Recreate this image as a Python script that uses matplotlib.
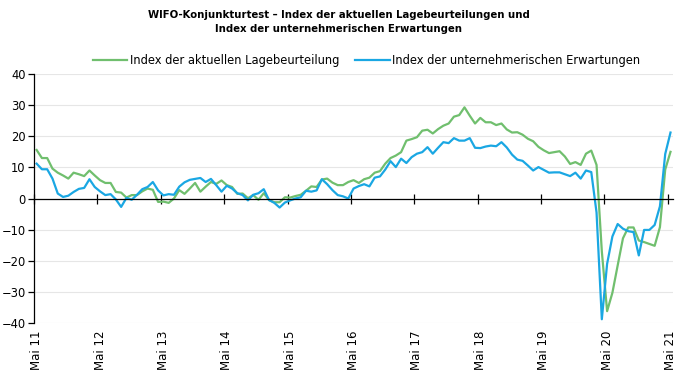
import matplotlib
matplotlib.use("Agg")
import matplotlib.pyplot as plt
import numpy as np

# monthly values May 2011 .. May 2021
lage = [15.6, 13.0, 13.0, 9.6, 8.3, 7.4, 6.4, 8.3, 7.8, 7.2, 9.0, 7.4,
        5.9, 5.0, 5.0, 2.1, 1.9, 0.3, 1.1, 1.1, 2.3, 3.2, 2.8, -1.1,
        -1.0, -1.4, 0.0, 2.7, 1.5, 3.2, 5.0, 2.2, 3.8, 5.3, 4.7, 5.8,
        4.3, 3.7, 1.5, 1.6, 0.1, 1.1, -0.4, 1.7, -0.5, -1.2, -1.2, 0.4,
        0.3, 0.8, 1.2, 2.5, 3.9, 3.7, 6.1, 6.4, 5.1, 4.3, 4.3, 5.3,
        5.9, 5.0, 6.2, 6.7, 8.3, 8.8, 11.2, 13.0, 13.8, 14.9, 18.6, 19.1,
        19.7, 21.8, 22.1, 20.9, 22.3, 23.4, 24.1, 26.3, 26.8, 29.3, 26.6, 24.1,
        25.9, 24.5, 24.5, 23.6, 24.1, 22.2, 21.2, 21.3, 20.5, 19.2, 18.4, 16.6,
        15.5, 14.6, 14.9, 15.2, 13.5, 11.1, 11.7, 10.8, 14.4, 15.4, 10.8, -17.0,
        -36.2, -30.3, -21.5, -12.8, -9.3, -9.3, -13.5, -14.0, -14.6, -15.2, -9.2, 9.3,
        15.0]

erwartungen = [11.2, 9.4, 9.4, 6.4, 1.6, 0.5, 0.9, 2.1, 3.1, 3.4, 6.2, 3.7,
               2.3, 1.1, 1.4, -0.3, -2.7, 0.2, -0.4, 1.2, 3.0, 3.7, 5.3, 2.6,
               1.0, 1.4, 1.2, 3.8, 5.2, 6.0, 6.3, 6.6, 5.3, 6.3, 4.3, 2.2,
               4.1, 3.2, 1.7, 1.1, -0.6, 1.2, 1.7, 3.0, -0.5, -1.4, -2.9, -1.3,
               -0.6, 0.0, 0.4, 2.5, 2.2, 2.6, 6.2, 4.6, 2.7, 1.1, 0.7, 0.0,
               3.2, 4.0, 4.6, 3.9, 6.7, 7.1, 9.3, 12.0, 10.1, 12.8, 11.4, 13.3,
               14.4, 14.9, 16.5, 14.4, 16.3, 18.1, 17.8, 19.4, 18.6, 18.6, 19.4, 16.3,
               16.2, 16.7, 17.0, 16.8, 18.1, 16.4, 14.1, 12.5, 12.1, 10.6, 9.0, 10.1,
               9.2, 8.3, 8.4, 8.4, 7.8, 7.2, 8.3, 6.4, 9.0, 8.5, -4.5, -38.8,
               -21.0, -12.2, -8.2, -9.7, -10.5, -10.8, -18.3, -10.1, -10.1, -8.5, -2.5, 14.3,
               21.2]

year_labels = ["Mai 11", "Mai 12", "Mai 13", "Mai 14", "Mai 15", "Mai 16",
               "Mai 17", "Mai 18", "Mai 19", "Mai 20", "Mai 21"]

green = "#70BF6E"
blue = "#1AA7E3"

fig = plt.figure(figsize=(6.88, 3.83), dpi=100)
ax = fig.add_axes([0.0494, 0.1567, 0.929, 0.650])

x = np.arange(len(lage))
ax.plot(x, lage, color=green, lw=1.6, label="Index der aktuellen Lagebeurteilung")
ax.plot(x, erwartungen, color=blue, lw=1.6, label="Index der unternehmerischen Erwartungen")

ax.set_xlim(-0.5, 120.5)
ax.set_ylim(-40, 40)
ax.set_yticks(range(-40, 41, 10))
ax.grid(axis="y", color="#E6E6E6", lw=0.8)
ax.set_axisbelow(True)

for s in ["top", "right"]:
    ax.spines[s].set_visible(False)
ax.spines["left"].set_linewidth(0.9)
ax.spines["bottom"].set_position(("data", 0))
ax.spines["bottom"].set_linewidth(0.9)

# year ticks sit between April and May
ax.set_xticks(np.arange(0, 121, 12) - 0.5)
ax.set_xticklabels([])
ax.tick_params(axis="x", direction="inout", length=7, width=0.9)
ax.tick_params(axis="y", direction="out", length=4, width=0.9, labelsize=8.3, pad=2)

for i, lab in enumerate(year_labels):
    ax.text(i * 12, -0.03, lab, transform=ax.get_xaxis_transform(),
            rotation=90, ha="center", va="top", fontsize=8.5)

fig.text(0.492, 0.975, "WIFO-Konjunkturtest \u2013 Index der aktuellen Lagebeurteilungen und\n"
         "Index der unternehmerischen Erwartungen",
         ha="center", va="top", fontsize=7.3, fontweight="bold", linespacing=1.5)

ax.legend(loc="lower center", bbox_to_anchor=(0.52, 1.0), ncol=2, frameon=False,
          fontsize=8.3, handlelength=3.0, handletextpad=0.2, columnspacing=1.4,
          borderaxespad=0.2)

fig.savefig("out.png", dpi=100)
